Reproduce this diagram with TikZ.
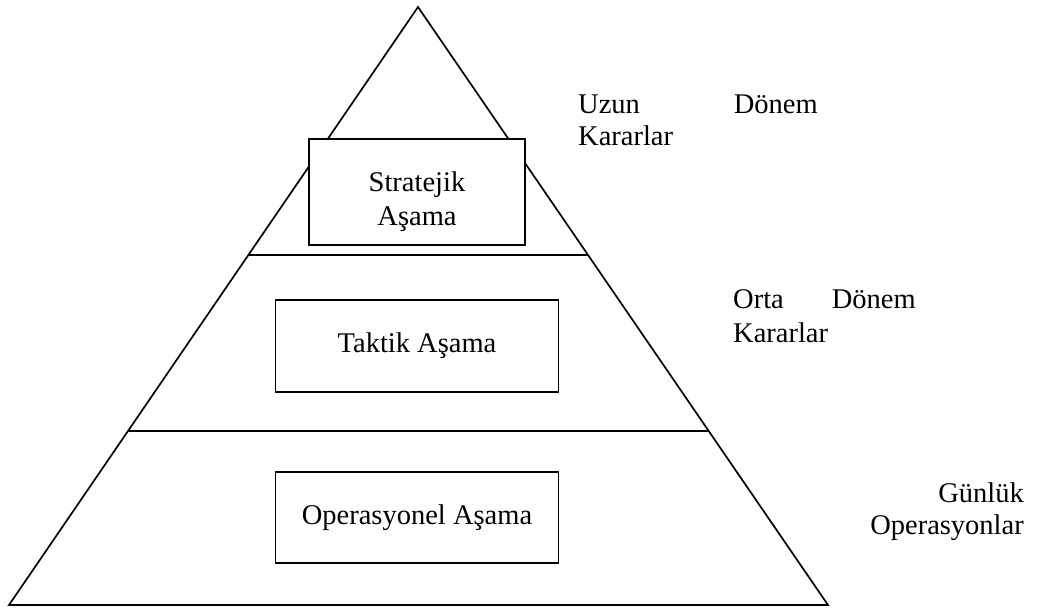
\documentclass[tikz,border=0pt]{standalone}
\usepackage{fontspec}
\setmainfont{Liberation Serif}
\usetikzlibrary{calc}
\tikzset{
  edge/.style={line width=1.7pt, line join=miter},
  stagebox/.style={draw, line width=1.7pt, fill=white, align=center, inner sep=0pt,
    font=\fontsize{28.5}{34}\selectfont},
  sidetext/.style={inner sep=0pt, font=\fontsize{28.5}{34}\selectfont}
}
\begin{document}
\begin{tikzpicture}[x=1pt,y=1pt]
\useasboundingbox[fill=white] (0,0) rectangle (1042,-608);
% triangle
\coordinate (apex) at (418,-7);
\coordinate (bl) at (9,-605);
\coordinate (br) at (828,-605);
\draw[edge] (apex) -- (br) -- (bl) -- cycle;
% division lines
\coordinate (l1a) at ($(apex)!0.4147!(bl)$);
\coordinate (l1b) at ($(apex)!0.4147!(br)$);
\coordinate (l2a) at ($(apex)!0.709!(bl)$);
\coordinate (l2b) at ($(apex)!0.709!(br)$);
\draw[edge] (l1a) -- (l1b);
\draw[edge] (l2a) -- (l2b);
% boxes
\node[stagebox, minimum width=216, minimum height=106] (strat) at (417,-192) {};
\node[sidetext, align=center, font=\fontsize{28.5}{34}\selectfont] (strattext) at ($(strat.center)+(0,-10)$) {Stratejik\\Aşama};
\node[stagebox, minimum width=283, minimum height=92] (takt) at (417,-346) {Taktik Aşama};
\node[stagebox, minimum width=283, minimum height=91] (oper) at (417,-517.5) {Operasyonel Aşama};
% side texts
\node[sidetext, anchor=base west] (uzun) at (578,-113) {Uzun};
\node[sidetext, anchor=base east] (donem1) at (818,-113) {Dönem};
\node[sidetext, anchor=base west] (karar1) at (578,-145) {Kararlar};
\node[sidetext, anchor=base west] (orta) at (733,-308) {Orta};
\node[sidetext, anchor=base east] (donem2) at (916,-308) {Dönem};
\node[sidetext, anchor=base west] (karar2) at (733,-342) {Kararlar};
\node[sidetext, anchor=base east] (gunluk) at (1024,-502) {Günlük};
\node[sidetext, anchor=base east] (operlar) at (1024,-534) {Operasyonlar};
\end{tikzpicture}
\end{document}
